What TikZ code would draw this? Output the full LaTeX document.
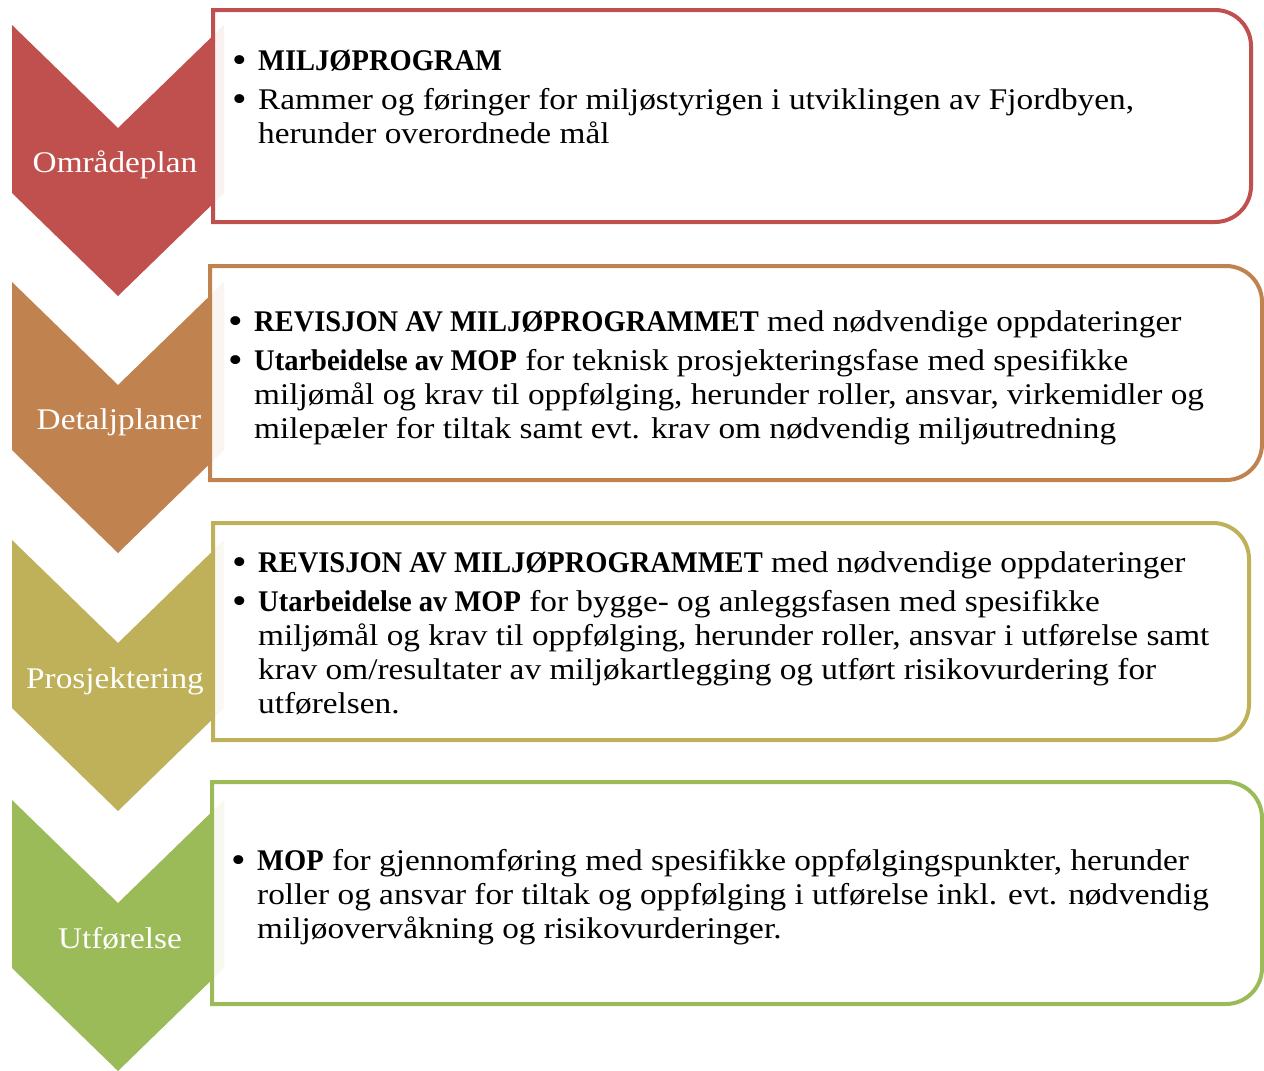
\documentclass[tikz,border=0pt]{standalone}
\usepackage{fontspec}
\setmainfont{Liberation Serif}[FakeStretch=1.11,BoldFeatures={FakeStretch=0.95}]
\definecolor{omr}{HTML}{C0504D}
\definecolor{det}{HTML}{C0824F}
\definecolor{pro}{HTML}{BEB15A}
\definecolor{utf}{HTML}{9BBB59}
\newcommand{\blt}{\makebox[26pt][l]{\raisebox{-2pt}{\scalebox{1.25}{\textbullet}}}}
\begin{document}
\begin{tikzpicture}  % ------ Faser i miljoeoppfoelgingen ------------------
      [x=1pt,y=-1pt,
       chevron/.style={fill=#1,draw=none},
       fasebox/.style={draw=#1,line width=4pt,fill=white,fill opacity=.92,draw opacity=1},
       fase/.style={white,anchor=base,font=\fontsize{30}{34}\selectfont},
       punkt/.style={anchor=north west,inner sep=0pt,font=\fontsize{30}{34}\selectfont}]
    \useasboundingbox (0,0) rectangle (1264,1071);
    % pilene
    \fill [chevron=omr] (12,25)--(118,128)--(224,25)--(224,193)--(118,296)--(12,193)--cycle;
    \fill [chevron=det] (12,282)--(118,385)--(224,282)--(224,450)--(118,553)--(12,450)--cycle;
    \fill [chevron=pro] (12,540)--(118,643)--(224,540)--(224,708)--(118,811)--(12,708)--cycle;
    \fill [chevron=utf] (12,800)--(118,903)--(224,800)--(224,968)--(118,1071)--(12,968)--cycle;
    % boksene
    \draw [fasebox=omr] (213,10)--(1215,10) arc[start angle=90,end angle=0,radius=36pt]
        --(1251,186) arc[start angle=0,end angle=-90,radius=36pt]--(213,222)--cycle;
    \draw [fasebox=det] (210,266)--(1226,266) arc[start angle=90,end angle=0,radius=36pt]
        --(1262,444) arc[start angle=0,end angle=-90,radius=36pt]--(210,480)--cycle;
    \draw [fasebox=pro] (213,523)--(1213,523) arc[start angle=90,end angle=0,radius=36pt]
        --(1249,704) arc[start angle=0,end angle=-90,radius=36pt]--(213,740)--cycle;
    \draw [fasebox=utf] (212,782)--(1226,782) arc[start angle=90,end angle=0,radius=36pt]
        --(1262,968) arc[start angle=0,end angle=-90,radius=36pt]--(212,1004)--cycle;
    % navn paa fasene
    \node [fase] (omraade) at (115,172) {Områdeplan};
    \node [fase] (detalj) at (119,429) {Detaljplaner};
    \node [fase] (prosj) at (115,688) {Prosjektering};
    \node [fase] (utfor) at (120,948) {Utførelse};
    % punktene
    \node [punkt] (omraadetekst) at (232,46) {\begin{tabular}{@{}l@{}l@{}}
        \blt & \textbf{MILJØPROGRAM}\\[5pt]
        \blt & Rammer og føringer for miljøstyrigen i utviklingen av Fjordbyen,\\
             & herunder overordnede mål
      \end{tabular}};
    \node [punkt] (detaljtekst) at (228,307) {\begin{tabular}{@{}l@{}l@{}}
        \blt & \textbf{REVISJON AV MILJØPROGRAMMET} med nødvendige oppdateringer\\[5pt]
        \blt & \textbf{Utarbeidelse av MOP} for teknisk prosjekteringsfase med spesifikke\\
             & miljømål og krav til oppfølging, herunder roller, ansvar, virkemidler og\\
             & milepæler for tiltak samt evt. krav om nødvendig miljøutredning
      \end{tabular}};
    \node [punkt] (prosjtekst) at (232,548) {\begin{tabular}{@{}l@{}l@{}}
        \blt & \textbf{REVISJON AV MILJØPROGRAMMET} med nødvendige oppdateringer\\[5pt]
        \blt & \textbf{Utarbeidelse av MOP} for bygge- og anleggsfasen med spesifikke\\
             & miljømål og krav til oppfølging, herunder roller, ansvar i utførelse samt\\
             & krav om/resultater av miljøkartlegging og utført risikovurdering for\\
             & utførelsen.
      \end{tabular}};
    \node [punkt] (utfortekst) at (231,846) {\begin{tabular}{@{}l@{}l@{}}
        \blt & \textbf{MOP} for gjennomføring med spesifikke oppfølgingspunkter, herunder\\
             & roller og ansvar for tiltak og oppfølging i utførelse inkl. evt. nødvendig\\
             & miljøovervåkning og risikovurderinger.
      \end{tabular}};
\end{tikzpicture}
\end{document}
